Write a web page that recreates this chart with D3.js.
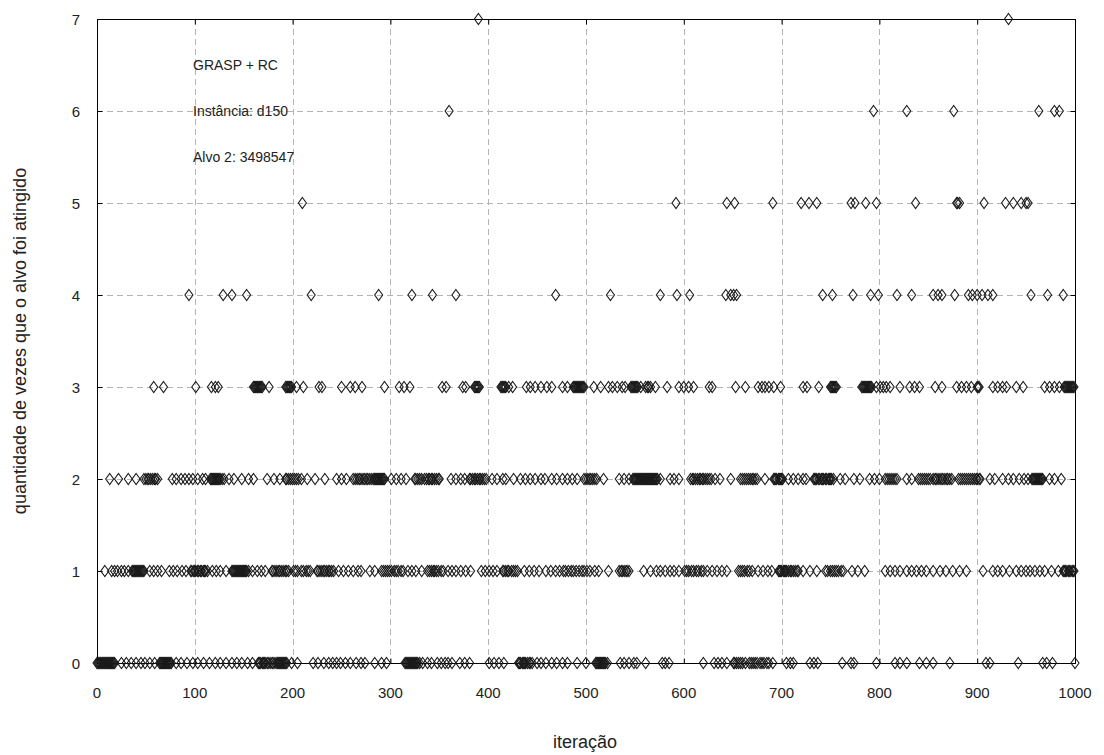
<!DOCTYPE html>
<html>
<head>
<meta charset="utf-8">
<script src="https://cdn.jsdelivr.net/npm/d3@7"></script>
<style>
  html, body { margin: 0; padding: 0; background: #fff; }
  svg text { font-family: "Liberation Sans", Arial, sans-serif; fill: #222; }
</style>
</head>
<body>
<svg id="chart" width="1104" height="755"></svg>
<script>
// Iterations at which the target was reached k times (k = 0..7)
const hits0 = [0,1,2,3,4,5,6,7,8,9,10,11,12,13,14,15,16,17,18,25,30,35,40,45,49,54,59,64,65,66,67,68,69,70,71,72,73,74,75,76,81,86,92,98,103,109,115,121,126,132,138,143,148,154,159,165,166,167,169,170,171,172,174,175,177,179,180,182,184,185,186,187,188,189,190,191,192,193,194,199,205,221,226,232,237,241,245,249,254,259,265,270,274,284,291,296,315,316,317,318,319,320,321,322,323,324,325,326,327,328,330,333,338,342,348,352,356,359,363,371,376,381,401,406,411,416,431,432,433,435,436,437,438,440,442,443,445,450,454,459,465,470,476,481,491,500,510,511,512,513,514,515,516,517,518,519,520,522,535,539,544,549,552,561,578,581,585,620,631,635,639,644,651,652,654,656,658,660,663,667,669,671,673,675,678,680,682,685,687,691,705,709,712,729,733,737,762,771,774,797,816,821,828,841,848,855,872,909,913,942,967,971,977,1000];
const hits1 = [8,15,18,21,25,28,32,36,37,38,39,40,41,42,43,44,45,46,47,48,54,58,62,66,74,78,82,87,91,96,97,99,100,101,103,104,106,107,109,110,111,113,118,122,126,132,138,139,140,141,142,143,144,145,146,147,148,149,150,151,152,153,155,159,164,168,172,179,180,182,184,186,187,189,191,193,194,196,201,203,205,209,211,214,216,218,225,226,228,230,232,233,235,237,238,240,242,247,252,257,262,267,270,279,284,291,293,295,297,299,301,304,306,308,311,313,318,322,326,332,338,340,342,344,345,347,349,352,354,359,363,367,372,377,382,393,397,401,405,409,415,416,418,420,421,424,426,428,430,437,442,447,452,459,464,469,473,477,479,482,485,487,490,493,496,498,501,504,509,513,523,534,536,537,539,541,542,544,559,566,572,576,581,586,590,595,601,603,605,608,610,613,615,618,620,624,629,634,639,644,656,658,660,662,665,667,670,676,681,686,690,697,698,699,700,702,703,704,705,707,709,710,712,714,716,717,722,729,736,745,747,750,752,754,756,758,761,763,772,778,785,806,811,816,821,828,833,838,843,848,855,862,868,875,882,889,906,916,921,926,933,940,945,950,954,959,964,969,976,983,988,989,990,991,993,994,995,997,998,999];
const hits2 = [13,22,32,40,48,50,52,53,55,57,59,60,62,77,81,86,90,94,98,103,108,111,116,117,118,119,120,121,122,123,124,125,126,128,130,135,140,148,155,160,174,181,187,193,194,196,198,200,202,204,206,209,215,223,233,245,250,255,262,264,266,268,269,271,273,274,276,277,279,281,283,284,285,286,287,288,289,290,291,292,293,294,301,306,311,316,325,326,328,330,332,335,337,339,340,342,343,345,347,349,350,362,367,372,376,381,382,384,386,387,389,391,392,394,396,398,404,409,415,418,426,433,438,443,448,454,458,465,470,476,481,486,491,498,500,502,504,505,507,509,511,518,534,539,544,548,549,550,551,552,553,554,555,556,557,558,559,560,561,562,563,564,565,566,567,568,569,570,571,572,573,576,586,590,595,607,609,610,612,614,616,617,619,620,622,624,626,628,632,637,648,658,660,662,664,666,668,670,671,673,675,683,692,693,694,695,697,698,699,700,701,707,712,717,722,725,733,734,735,736,738,739,741,742,743,745,746,748,749,750,751,753,760,765,774,780,790,795,800,806,808,810,812,814,816,818,828,833,840,842,844,846,848,850,852,855,857,858,860,862,864,865,867,869,870,872,874,881,883,885,887,889,891,893,895,897,899,900,902,903,913,918,926,932,937,943,948,952,956,957,958,959,960,961,962,963,964,965,966,967,974,979,986];
const hits3 = [58,68,101,117,121,124,160,161,162,163,164,165,166,167,168,169,176,193,194,195,196,197,198,199,204,211,227,230,250,259,264,271,294,309,314,320,353,357,374,377,386,387,388,389,390,391,413,414,415,416,417,418,421,425,439,443,448,454,460,465,476,481,487,488,489,490,491,492,493,494,495,496,497,498,508,515,523,527,532,537,540,546,547,548,549,550,551,552,553,556,561,563,564,566,571,583,595,600,605,610,626,629,653,663,676,680,683,687,692,699,722,726,738,750,751,752,753,754,755,756,782,783,784,785,786,787,788,789,790,791,792,797,801,804,807,811,821,831,836,841,857,864,879,884,889,894,900,901,902,916,921,926,930,940,947,969,974,979,984,989,990,991,992,993,994,995,996,997,998,999];
const hits4 = [94,129,138,153,219,288,322,343,367,469,525,576,593,606,643,648,651,654,742,752,773,791,799,818,833,855,860,864,877,891,895,900,905,911,916,955,972,988];
const hits5 = [210,592,644,652,691,720,728,736,771,775,786,797,837,879,880,882,907,929,937,945,950,952];
const hits6 = [360,794,828,876,963,979,984];
const hits7 = [390,932];

const xTicks = [0, 100, 200, 300, 400, 500, 600, 700, 800, 900, 1000];
const yTicks = [0, 1, 2, 3, 4, 5, 6, 7];
const notes = ["GRASP + RC", "Instância: d150", "Alvo 2: 3498547"];

const series = [hits0, hits1, hits2, hits3, hits4, hits5, hits6, hits7];
const points = series.flatMap((its, k) => its.map(it => ({ it, k })));

const svg = d3.select("#chart");
svg.append("rect").attr("width", 1104).attr("height", 755).attr("fill", "#fff");

const x = d3.scaleLinear().domain([0, 1000]).range([97, 1075]);
const y = d3.scaleLinear().domain([0, 7]).range([663, 19]);

// dashed grid
const grid = svg.append("g").attr("stroke", "#b4b4b4").attr("stroke-width", 1).attr("stroke-dasharray", "6,4");
grid.selectAll("line.h").data(yTicks.slice(1, -1)).join("line")
  .attr("x1", x(0)).attr("x2", x(1000))
  .attr("y1", d => Math.round(y(d)) + 0.5).attr("y2", d => Math.round(y(d)) + 0.5);
grid.selectAll("line.v").data(xTicks.slice(1, -1)).join("line")
  .attr("y1", y(7)).attr("y2", y(0))
  .attr("x1", d => Math.round(x(d)) + 0.5).attr("x2", d => Math.round(x(d)) + 0.5);

// frame and axes
const frame = svg.append("g").attr("stroke", "#000").attr("stroke-width", 1).attr("fill", "none");
frame.append("rect")
  .attr("x", Math.round(x(0)) + 0.5).attr("y", Math.round(y(7)) + 0.5)
  .attr("width", Math.round(x(1000)) - Math.round(x(0)))
  .attr("height", Math.round(y(0)) - Math.round(y(7)));

const axL = svg.append("g").attr("transform", `translate(${Math.round(x(0)) + 0.5},0)`)
  .call(d3.axisRight(y).tickValues(yTicks).tickSize(5).tickFormat(""));
const axR = svg.append("g").attr("transform", `translate(${Math.round(x(1000)) + 0.5},0)`)
  .call(d3.axisLeft(y).tickValues(yTicks).tickSize(5).tickFormat(""));
const axB = svg.append("g").attr("transform", `translate(0,${Math.round(y(0)) + 0.5})`)
  .call(d3.axisTop(x).tickValues(xTicks).tickSize(5).tickFormat(""));
const axT = svg.append("g").attr("transform", `translate(0,${Math.round(y(7)) + 0.5})`)
  .call(d3.axisBottom(x).tickValues(xTicks).tickSize(5).tickFormat(""));
[axL, axR, axB, axT].forEach(a => {
  a.select(".domain").remove();
  a.selectAll("line").attr("stroke", "#000");
});

// tick labels
svg.append("g").selectAll("text").data(yTicks).join("text")
  .attr("x", 80).attr("y", d => y(d) + 6)
  .attr("text-anchor", "end").attr("font-size", 15)
  .text(d => d);
svg.append("g").selectAll("text").data(xTicks).join("text")
  .attr("x", d => x(d)).attr("y", 698)
  .attr("text-anchor", "middle").attr("font-size", 15)
  .text(d => d);

// axis titles
svg.append("text").attr("x", x(500) - 1).attr("y", 748)
  .attr("text-anchor", "middle").attr("font-size", 18)
  .text("iteração");
svg.append("text")
  .attr("transform", `translate(26,${y(3.5)}) rotate(-90)`)
  .attr("text-anchor", "middle").attr("font-size", 18)
  .text("quantidade de vezes que o alvo foi atingido");

// annotations
svg.append("g").selectAll("text").data(notes).join("text")
  .attr("x", 193).attr("y", (d, i) => y(6.5 - i * 0.5) + 5)
  .attr("font-size", 14)
  .text(d => d);

// diamond markers
const diamond = "M0,-5.5L4,0L0,5.5L-4,0Z";
svg.append("g").selectAll("path").data(points).join("path")
  .attr("d", diamond)
  .attr("transform", d => `translate(${x(d.it)},${y(d.k)})`)
  .attr("fill", "none").attr("stroke", "#1a1a1a").attr("stroke-width", 1.1);
</script>
</body>
</html>
